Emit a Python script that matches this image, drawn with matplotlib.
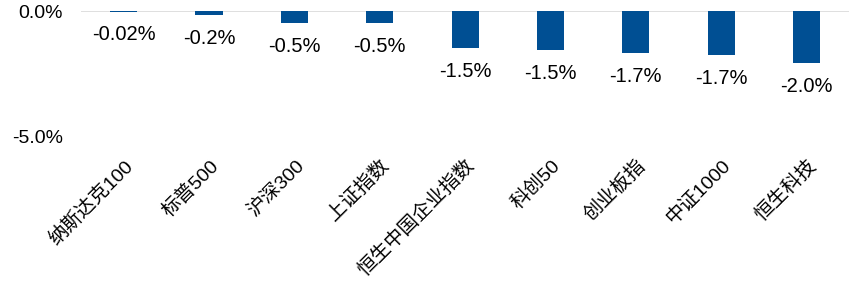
import matplotlib.pyplot as plt
from matplotlib.ticker import FuncFormatter

plt.rcParams['font.family'] = ['Liberation Sans', 'Noto Sans CJK SC', 'DejaVu Sans']
plt.rcParams['axes.unicode_minus'] = False

categories = ["纳斯达克100", "标普500", "沪深300", "上证指数", "恒生中国企业指数",
              "科创50", "创业板指", "中证1000", "恒生科技"]
values = [-0.02, -0.15, -0.46, -0.48, -1.47, -1.55, -1.67, -1.75, -2.05]
value_labels = ["-0.02%", "-0.2%", "-0.5%", "-0.5%", "-1.5%", "-1.5%", "-1.7%", "-1.7%", "-2.0%"]

fig = plt.figure(figsize=(8.63, 2.92), dpi=100)
ax = fig.add_axes([0.094, 0.531, 0.89, 0.431])

x = range(len(categories))
bars = ax.bar(x, values, width=0.32, color="#004F93")

for b, lab in zip(bars, value_labels):
    ax.annotate(lab, (b.get_x() + b.get_width() / 2, b.get_height()),
                xytext=(0, -10), textcoords="offset points",
                ha="center", va="top", fontsize=14.5)

ax.set_xlim(-0.5, len(categories) - 0.5)
ax.set_ylim(-5, 0)
ax.set_yticks([0, -5])
ax.yaxis.set_major_formatter(FuncFormatter(lambda v, p: f"{v:.1f}%"))
ax.axhline(0, color="#D9D9D9", lw=1.2, zorder=0)

for s in ax.spines.values():
    s.set_visible(False)
ax.tick_params(axis="both", length=0, labelsize=14)
ax.tick_params(axis="y", pad=13)

ax.set_xticks(list(x))
ax.set_xticklabels(categories, rotation=45, ha="right", rotation_mode="anchor")
ax.tick_params(axis="x", pad=14)

fig.savefig("out.png", dpi=100)
